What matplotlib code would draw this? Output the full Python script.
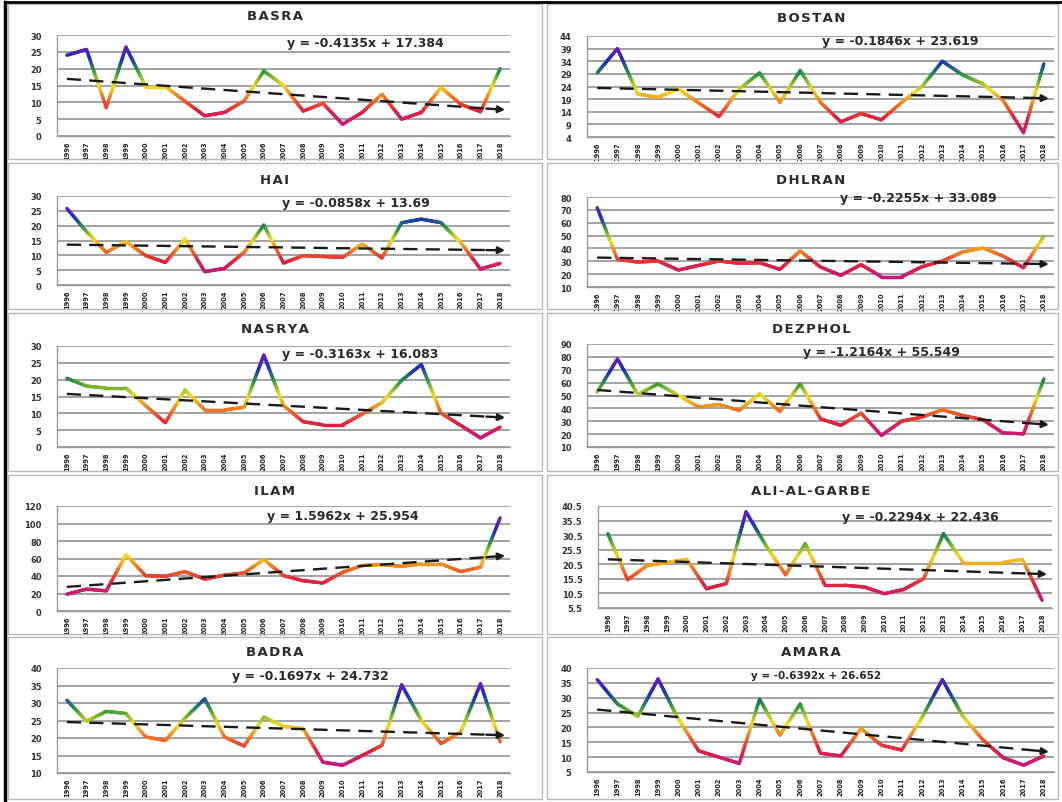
import matplotlib
matplotlib.use("Agg")
import matplotlib.pyplot as plt
import numpy as np
from matplotlib.collections import LineCollection
from matplotlib.colors import LinearSegmentedColormap
from matplotlib.lines import Line2D
from matplotlib.patches import Rectangle

W, H = 1062, 803

YEARS = list(range(1996, 2019))

BASRA = [24.0, 25.7, 8.4, 26.4, 14.7, 14.7, 10.3, 6.0, 7.0, 10.4, 19.3, 15.0,
         7.4, 9.7, 3.5, 7.0, 12.4, 5.0, 7.0, 14.4, 9.4, 7.2, 20.0]
BOSTAN = [29.4, 39.0, 21.0, 19.7, 23.0, 17.5, 12.1, 23.0, 29.4, 17.7, 30.3, 17.7,
          10.0, 13.3, 10.8, 17.7, 24.0, 34.0, 28.6, 25.0, 18.4, 5.7, 33.0]
HAI = [25.8, 18.0, 11.0, 14.6, 9.9, 7.6, 15.5, 4.5, 5.6, 11.0, 20.2, 7.4,
       9.9, 9.6, 9.3, 13.8, 9.1, 21.0, 22.2, 21.0, 14.3, 5.4, 7.3]
DHLRAN = [71.7, 31.5, 29.4, 30.2, 23.2, 26.8, 30.2, 28.4, 28.9, 23.7, 38.0, 25.5,
          19.1, 27.4, 18.0, 18.0, 25.8, 30.2, 37.2, 40.3, 34.0, 25.0, 49.6]
NASRYA = [20.4, 18.1, 17.5, 17.5, 12.3, 7.2, 16.9, 11.0, 11.0, 11.8, 27.3, 12.3,
          7.5, 6.6, 6.6, 9.8, 13.2, 19.8, 24.5, 10.0, 6.4, 2.7, 5.9]
DEZPHOL = [52.6, 78.4, 50.8, 59.0, 50.0, 41.0, 43.0, 38.4, 51.3, 37.6, 59.0, 31.9,
           26.8, 36.3, 19.0, 30.1, 33.2, 38.9, 34.5, 31.2, 20.8, 20.3, 62.9]
ILAM = [19.2, 25.0, 23.0, 64.2, 40.4, 39.6, 45.0, 36.5, 41.0, 43.5, 58.8, 40.4,
        34.6, 32.0, 44.2, 52.0, 53.0, 51.0, 53.8, 53.8, 45.0, 50.0, 106.5]
ALI_AL_GARBE = [31.0, 15.2, 20.1, 21.1, 22.2, 12.1, 13.9, 38.5, 27.0, 16.9, 27.6, 13.3,
                13.3, 12.7, 10.4, 11.9, 15.6, 31.0, 21.1, 21.1, 21.1, 22.2, 8.1]
BADRA = [30.8, 24.8, 27.6, 27.0, 20.3, 19.3, 25.7, 31.2, 20.3, 17.7, 26.0, 23.3,
         22.7, 13.1, 12.2, 15.0, 17.9, 35.2, 25.0, 18.4, 21.7, 35.5, 18.9]
AMARA = [36.1, 27.9, 23.7, 36.3, 22.8, 12.1, 10.0, 7.9, 29.5, 17.4, 27.9, 11.3,
         10.4, 19.6, 14.0, 12.4, 23.4, 36.1, 23.9, 15.8, 9.8, 7.3, 10.4]

# trend line coefficients (y = slope * x + intercept, x = 1..23)
SLOPES = {"BASRA": -0.4135, "BOSTAN": -0.1846, "HAI": -0.0858, "DHLRAN": -0.2255,
          "NASRYA": -0.3163, "DEZPHOL": -1.2164, "ILAM": 1.5962,
          "ALI-AL-GARBE": -0.2294, "BADRA": -0.1697, "AMARA": -0.6392}
INTERCEPTS = {"BASRA": 17.384, "BOSTAN": 23.619, "HAI": 13.69, "DHLRAN": 33.089,
              "NASRYA": 16.083, "DEZPHOL": 55.549, "ILAM": 25.954,
              "ALI-AL-GARBE": 22.436, "BADRA": 24.732, "AMARA": 26.652}

SERIES = {"BASRA": BASRA, "BOSTAN": BOSTAN, "HAI": HAI, "DHLRAN": DHLRAN,
          "NASRYA": NASRYA, "DEZPHOL": DEZPHOL, "ILAM": ILAM,
          "ALI-AL-GARBE": ALI_AL_GARBE, "BADRA": BADRA, "AMARA": AMARA}

# y axis: (min, max, step)
YAXES = {"BASRA": (0, 30, 5), "BOSTAN": (4, 44, 5), "HAI": (0, 30, 5),
         "DHLRAN": (10, 80, 10), "NASRYA": (0, 30, 5), "DEZPHOL": (10, 90, 10),
         "ILAM": (0, 120, 20), "ALI-AL-GARBE": (5.5, 40.5, 5),
         "BADRA": (10, 40, 5), "AMARA": (5, 40, 5)}

# layout in pixels: plot box (left, top, right, bottom), frame (top, bottom),
# title y, equation position in axes fraction, equation size
LAYOUT = {
    "BASRA":        dict(box=(57, 36, 510, 137),   frame=(5, 160),   ty=17,  eq=(0.68, 0.93), es=9),
    "BOSTAN":       dict(box=(587, 37, 1054, 138), frame=(5, 160),   ty=18,  eq=(0.67, 0.955), es=9),
    "HAI":          dict(box=(57, 197, 510, 286),  frame=(164, 310), ty=180, eq=(0.66, 0.93), es=9),
    "DHLRAN":       dict(box=(587, 198, 1054, 288), frame=(164, 310), ty=180, eq=(0.71, 0.995), es=9),
    "NASRYA":       dict(box=(57, 347, 510, 448),  frame=(314, 472), ty=330, eq=(0.67, 0.93), es=9),
    "DEZPHOL":      dict(box=(587, 345, 1054, 448), frame=(314, 472), ty=330, eq=(0.63, 0.93), es=9),
    "ILAM":         dict(box=(57, 507, 510, 612),  frame=(476, 635), ty=492, eq=(0.63, 0.91), es=9),
    "ALI-AL-GARBE": dict(box=(598, 507, 1052, 609), frame=(476, 635), ty=492, eq=(0.71, 0.90), es=9),
    "BADRA":        dict(box=(57, 669, 510, 774),  frame=(638, 800), ty=653, eq=(0.56, 0.93), es=9),
    "AMARA":        dict(box=(587, 669, 1054, 773), frame=(638, 800), ty=653, eq=(0.49, 0.93), es=7.5),
}

RAINBOW = LinearSegmentedColormap.from_list(
    "rainbow_line",
    [(0.0, "#c8177c"), (0.18, "#e3233c"), (0.35, "#f07a22"), (0.5, "#f2de1e"),
     (0.68, "#2f9b3a"), (0.85, "#1a2cc4"), (1.0, "#6c1cb6")])


def px_box(left, top, right, bottom):
    return [left / W, 1 - bottom / H, (right - left) / W, (bottom - top) / H]


def rainbow_line(ax, x, y, n=24):
    x = np.asarray(x, float)
    y = np.asarray(y, float)
    lo, hi = y.min(), y.max()
    segs, cols = [], []
    for i in range(len(x) - 1):
        t = np.linspace(0, 1, n + 1)
        xs = x[i] + (x[i + 1] - x[i]) * t
        ys = y[i] + (y[i + 1] - y[i]) * t
        for j in range(n):
            segs.append([(xs[j], ys[j]), (xs[j + 1], ys[j + 1])])
            cols.append(RAINBOW(((ys[j] + ys[j + 1]) / 2 - lo) / (hi - lo)))
    lc = LineCollection(segs, colors=cols, linewidths=2.4, capstyle="round",
                        joinstyle="round", zorder=3)
    ax.add_collection(lc)


fig = plt.figure(figsize=(W / 100, H / 100), dpi=100)
plt.rcParams["font.family"] = "DejaVu Sans"

x = np.arange(1, len(YEARS) + 1)

for name, vals in SERIES.items():
    lay = LAYOUT[name]
    left, top, right, bottom = lay["box"]
    right_col = left > 540
    fx0, fx1 = (547, 1058) if right_col else (8, 542)
    ft, fb = lay["frame"]
    fig.patches.append(Rectangle((fx0 / W, 1 - fb / H), (fx1 - fx0) / W, (fb - ft) / H,
                                 transform=fig.transFigure, fill=False,
                                 edgecolor="#b8b8b8", lw=1.0))
    fig.text((fx0 + fx1) / 2 / W + (0.008 if right_col else 0), 1 - lay["ty"] / H,
             "\u200a".join(name), ha="center", va="center", fontsize=9.5,
             fontweight="bold", color="#2a2a2a")

    ax = fig.add_axes(px_box(left, top, right, bottom))
    ymin, ymax, ystep = YAXES[name]
    ax.set_ylim(ymin, ymax)
    ax.set_xlim(0.5, len(YEARS) + 0.5)
    ax.set_yticks(np.arange(ymin, ymax + 0.01, ystep))
    ax.set_yticklabels([f"{v:g}" for v in np.arange(ymin, ymax + 0.01, ystep)],
                       fontsize=6, fontweight="bold", color="#333333")
    ax.set_xticks(x)
    ax.set_xticklabels([str(yr) for yr in YEARS], rotation=90, fontsize=4.8,
                       fontweight="bold", color="#222222")
    ax.tick_params(axis="y", length=0, pad=11)
    ax.tick_params(axis="x", length=0, pad=3)
    ax.grid(axis="y", color="#a3a3a3", lw=1.4, zorder=0)
    ax.set_axisbelow(True)
    for side in ("top", "right"):
        ax.spines[side].set_visible(False)
    for side in ("left", "bottom"):
        ax.spines[side].set_color("#9a9a9a")
        ax.spines[side].set_linewidth(1.0)
    ax.patch.set_alpha(0)

    rainbow_line(ax, x, vals)

    slope, icpt = SLOPES[name], INTERCEPTS[name]
    xt = np.array([1.0, 22.3])
    ax.plot(xt, slope * xt + icpt, color="#1a1a1a", lw=1.7, ls=(0, (6, 3.5)), zorder=4)
    ax.annotate("", xy=(23.25, slope * 23.25 + icpt), xytext=(22.3, slope * 22.3 + icpt),
                arrowprops=dict(arrowstyle="-|>", color="#1a1a1a", lw=1.7,
                                mutation_scale=10, shrinkA=0, shrinkB=0), zorder=5)

    ex, ey = lay["eq"]
    ax.text(ex, ey, f"y = {slope:g}x + {icpt:g}", transform=ax.transAxes,
            ha="center", va="center", fontsize=lay["es"], fontweight="bold",
            color="#2a2a2a", zorder=6)

# dark border along the top and left edges
fig.add_artist(Line2D([5 / W, 1], [1 - 3 / H, 1 - 3 / H], transform=fig.transFigure,
                      color="black", lw=2.0))
fig.add_artist(Line2D([5 / W, 5 / W], [1 - 3 / H, 0], transform=fig.transFigure,
                      color="black", lw=2.5))

fig.savefig("out.png", dpi=100)
